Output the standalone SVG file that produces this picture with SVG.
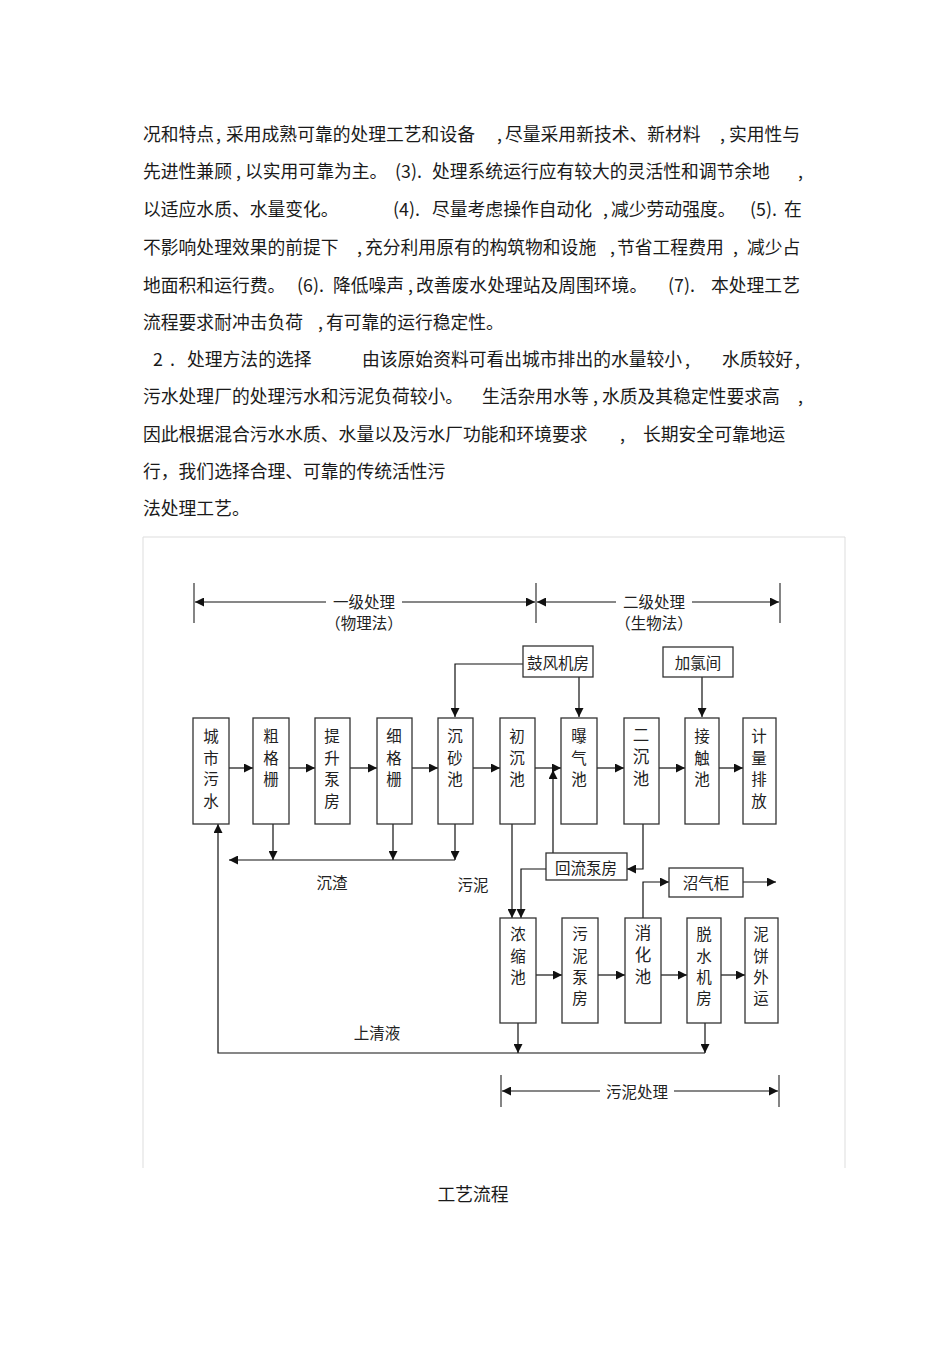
<svg xmlns="http://www.w3.org/2000/svg" width="950" height="1345" viewBox="0 0 950 1345">
<style>
.p{font-family:"Noto Sans CJK SC","Noto Sans",sans-serif;font-size:17.8px;fill:#1a1a1a}
.b{fill:#fff;stroke:#333;stroke-width:1.3}
.t{font-family:"Noto Sans CJK SC","Noto Sans",sans-serif;font-size:15.5px;fill:#222;text-anchor:middle;dominant-baseline:central}
.tb{font-size:16.5px}
.c{fill:none;stroke:#111;stroke-width:1.2}
.ca{fill:none;stroke:#111;stroke-width:1.2;marker-end:url(#ah)}
.cb{fill:none;stroke:#111;stroke-width:1.2;marker-start:url(#ah);marker-end:url(#ah)}
.tick{stroke:#333;stroke-width:1.2}
</style>
<defs>
<marker id="ah" viewBox="0 0 10 10" refX="10" refY="5" markerWidth="10" markerHeight="9" markerUnits="userSpaceOnUse" orient="auto-start-reverse">
<path d="M0,0 L10,5 L0,10 z" fill="#111"/>
</marker>
</defs>
<rect width="950" height="1345" fill="#fff"/>

<g id="paragraph">
<text class="p" y="141"><tspan x="143">况和特点</tspan><tspan x="216">,</tspan><tspan x="226">采用成熟可靠的处理工艺和设备</tspan><tspan x="497">,</tspan><tspan x="505">尽量采用新技术、新材料</tspan><tspan x="720">,</tspan><tspan x="729">实用性与</tspan></text>
<text class="p" y="178"><tspan x="143">先进性兼顾</tspan><tspan x="236">,</tspan><tspan x="245">以实用可靠为主。</tspan><tspan x="395">(3).</tspan><tspan x="432">处理系统运行应有较大的灵活性和调节余地</tspan><tspan x="798">,</tspan></text>
<text class="p" y="216"><tspan x="143">以适应水质、水量变化。</tspan><tspan x="393">(4).</tspan><tspan x="432">尽量考虑操作自动化</tspan><tspan x="603">,</tspan><tspan x="611">减少劳动强度。</tspan><tspan x="750">(5).</tspan><tspan x="784">在</tspan></text>
<text class="p" y="254"><tspan x="143">不影响处理效果的前提下</tspan><tspan x="357">,</tspan><tspan x="365">充分利用原有的构筑物和设施</tspan><tspan x="610">,</tspan><tspan x="617">节省工程费用</tspan><tspan x="733">,</tspan><tspan x="747">减少占</tspan></text>
<text class="p" y="292"><tspan x="143">地面积和运行费。</tspan><tspan x="297">(6).</tspan><tspan x="333">降低噪声</tspan><tspan x="408">,</tspan><tspan x="416">改善废水处理站及周围环境。</tspan><tspan x="668">(7).</tspan><tspan x="711">本处理工艺</tspan></text>
<text class="p" y="329"><tspan x="143">流程要求耐冲击负荷</tspan><tspan x="318">,</tspan><tspan x="326">有可靠的运行稳定性。</tspan></text>
<text class="p" y="366"><tspan x="153">2</tspan><tspan x="170">.</tspan><tspan x="187">处理方法的选择</tspan><tspan x="362">由该原始资料可看出城市排出的水量较小</tspan><tspan x="685">,</tspan><tspan x="722">水质较好</tspan><tspan x="795">,</tspan></text>
<text class="p" y="403"><tspan x="143">污水处理厂的处理污水和污泥负荷较小。</tspan><tspan x="482">生活杂用水等</tspan><tspan x="593">,</tspan><tspan x="602">水质及其稳定性要求高</tspan><tspan x="798">,</tspan></text>
<text class="p" y="441"><tspan x="143">因此根据混合污水水质、水量以及污水厂功能和环境要求</tspan><tspan x="620">,</tspan><tspan x="643">长期安全可靠地运</tspan></text>
<text class="p" x="143" y="478">行，我们选择合理、可靠的传统活性污</text>
<text class="p" x="143" y="515">法处理工艺。</text>
</g>

<g id="frame">
<path d="M143,1168 V537 H845 V1168" fill="none" stroke="#ddd" stroke-width="1"/>
</g>

<g id="connectors">
<line class="tick" x1="194" y1="583" x2="194" y2="623"/>
<line class="tick" x1="536" y1="583" x2="536" y2="623"/>
<line class="tick" x1="780" y1="583" x2="780" y2="623"/>
<path class="cb" d="M195,602 H535"/>
<path class="cb" d="M537,602 H779"/>
<line class="tick" x1="501" y1="1075" x2="501" y2="1107"/>
<line class="tick" x1="779" y1="1075" x2="779" y2="1107"/>
<path class="cb" d="M502,1091 H778"/>
<path class="ca" d="M523,664 H455 V717"/>
<path class="ca" d="M579,677 V717"/>
<path class="ca" d="M702,677 V717"/>
<path class="ca" d="M229,768 H253"/>
<path class="ca" d="M289,768 H315"/>
<path class="ca" d="M350,768 H377"/>
<path class="ca" d="M412,768 H438"/>
<path class="ca" d="M473,768 H500"/>
<path class="ca" d="M535,768 H561"/>
<path class="ca" d="M597,768 H624"/>
<path class="ca" d="M659,768 H685"/>
<path class="ca" d="M719,768 H743"/>
<path class="ca" d="M273,824 V860"/>
<path class="ca" d="M393,824 V860"/>
<path class="ca" d="M455,824 V860"/>
<path class="ca" d="M455,860 H229"/>
<path class="ca" d="M512,824 V918"/>
<path class="ca" d="M643,824 V869 H627"/>
<path class="ca" d="M553,853 V770"/>
<path class="ca" d="M546,869 H521 V918"/>
<path class="ca" d="M643,918 V882 H669"/>
<path class="ca" d="M743,882 H776"/>
<path class="ca" d="M536,975 H562"/>
<path class="ca" d="M598,975 H625"/>
<path class="ca" d="M661,975 H687"/>
<path class="ca" d="M721,975 H745"/>
<path class="ca" d="M518,1023 V1053"/>
<path class="ca" d="M705,1023 V1053"/>
<path class="ca" d="M705,1053 H218 V824"/>
</g>

<g id="bracket-labels">
<rect x="326" y="591" width="76" height="22" fill="#fff"/>
<text class="t" x="364" y="601" font-size="16">一级处理</text>
<text class="t" x="364" y="622" font-size="16">（物理法）</text>
<rect x="616" y="591" width="76" height="22" fill="#fff"/>
<text class="t" x="654" y="601" font-size="16">二级处理</text>
<text class="t" x="654" y="622" font-size="16">（生物法）</text>
<rect x="600" y="1080" width="74" height="22" fill="#fff"/>
<text class="t" x="637" y="1091" font-size="16">污泥处理</text>
</g>

<g id="labels">
<text class="t" x="332" y="882">沉渣</text>
<text class="t" x="473" y="884">污泥</text>
<text class="t" x="377" y="1032">上清液</text>
</g>

<g id="n-chengshiwushui"><rect class="b" x="193" y="718" width="36" height="106"/>
<text class="t" x="211" y="735">城</text><text class="t" x="211" y="757">市</text><text class="t" x="211" y="778">污</text><text class="t" x="211" y="800">水</text></g>
<g id="n-cugeshan"><rect class="b" x="253" y="718" width="36" height="106"/>
<text class="t" x="271" y="735">粗</text><text class="t" x="271" y="757">格</text><text class="t" x="271" y="778">栅</text></g>
<g id="n-tishengbengfang"><rect class="b" x="315" y="718" width="35" height="106"/>
<text class="t" x="332" y="735">提</text><text class="t" x="332" y="757">升</text><text class="t" x="332" y="778">泵</text><text class="t" x="332" y="800">房</text></g>
<g id="n-xigeshan"><rect class="b" x="377" y="718" width="35" height="106"/>
<text class="t" x="394" y="735">细</text><text class="t" x="394" y="757">格</text><text class="t" x="394" y="778">栅</text></g>
<g id="n-chenshachi"><rect class="b" x="438" y="718" width="35" height="106"/>
<text class="t" x="455" y="735">沉</text><text class="t" x="455" y="757">砂</text><text class="t" x="455" y="778">池</text></g>
<g id="n-chuchenchi"><rect class="b" x="500" y="718" width="35" height="106"/>
<text class="t" x="517" y="735">初</text><text class="t" x="517" y="757">沉</text><text class="t" x="517" y="778">池</text></g>
<g id="n-puqichi"><rect class="b" x="561" y="718" width="36" height="106"/>
<text class="t" x="579" y="735">曝</text><text class="t" x="579" y="757">气</text><text class="t" x="579" y="778">池</text></g>
<g id="n-erchenchi"><rect class="b" x="624" y="718" width="35" height="106"/>
<text class="t tb" x="641" y="734">二</text><text class="t tb" x="641" y="756">沉</text><text class="t tb" x="641" y="778">池</text></g>
<g id="n-jiechuchi"><rect class="b" x="685" y="718" width="34" height="106"/>
<text class="t" x="702" y="735">接</text><text class="t" x="702" y="757">触</text><text class="t" x="702" y="778">池</text></g>
<g id="n-jiliangpaifang"><rect class="b" x="743" y="718" width="33" height="106"/>
<text class="t" x="759" y="735">计</text><text class="t" x="759" y="757">量</text><text class="t" x="759" y="778">排</text><text class="t" x="759" y="800">放</text></g>

<g id="n-gufengjifang"><rect class="b" x="523" y="646" width="70" height="31"/>
<text class="t" x="558" y="662" font-size="14.5">鼓风机房</text></g>
<g id="n-jialvjian"><rect class="b" x="663" y="647" width="70" height="30"/>
<text class="t" x="698" y="662" font-size="14.5">加氯间</text></g>
<g id="n-huiliubengfang"><rect class="b" x="546" y="853" width="81" height="27"/>
<text class="t" x="586" y="867" font-size="16">回流泵房</text></g>
<g id="n-zhaoqigui"><rect class="b" x="669" y="868" width="74" height="29"/>
<text class="t" x="706" y="882" font-size="16">沼气柜</text></g>

<g id="n-nongsuochi"><rect class="b" x="500" y="918" width="36" height="105"/>
<text class="t" x="518" y="933">浓</text><text class="t" x="518" y="955">缩</text><text class="t" x="518" y="976">池</text></g>
<g id="n-wunibengfang"><rect class="b" x="562" y="918" width="36" height="105"/>
<text class="t" x="580" y="933">污</text><text class="t" x="580" y="955">泥</text><text class="t" x="580" y="976">泵</text><text class="t" x="580" y="997">房</text></g>
<g id="n-xiaohuachi"><rect class="b" x="625" y="918" width="36" height="105"/>
<text class="t tb" x="643" y="932">消</text><text class="t tb" x="643" y="954">化</text><text class="t tb" x="643" y="976">池</text></g>
<g id="n-tuoshuijifang"><rect class="b" x="687" y="918" width="34" height="105"/>
<text class="t" x="704" y="933">脱</text><text class="t" x="704" y="955">水</text><text class="t" x="704" y="976">机</text><text class="t" x="704" y="997">房</text></g>
<g id="n-nibingwaiyun"><rect class="b" x="745" y="918" width="33" height="105"/>
<text class="t" x="761" y="933">泥</text><text class="t" x="761" y="955">饼</text><text class="t" x="761" y="976">外</text><text class="t" x="761" y="997">运</text></g>

<g id="caption">
<text class="p" x="473" y="1201" text-anchor="middle" font-size="17">工艺流程</text>
</g>
</svg>
